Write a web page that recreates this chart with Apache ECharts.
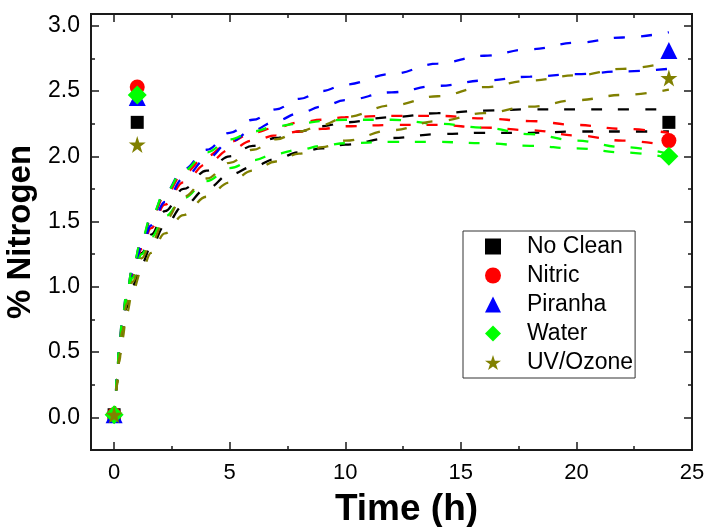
<!DOCTYPE html>
<html>
<head>
<meta charset="utf-8">
<title>% Nitrogen vs Time</title>
<script src="https://cdn.jsdelivr.net/npm/echarts@6/dist/echarts.min.js"></script>
<style>
  html, body { margin: 0; padding: 0; background: #fff; }
  #chart { width: 707px; height: 527px; }
</style>
</head>
<body>
<div id="chart"></div>
<script>
// Measured nitrogen content at each sampling time (h)
const sampleT = [0, 1, 24];
const noClean = [0.02, 2.26, 2.26];
const nitric  = [0.02, 2.53, 2.12];
const piranha = [0.02, 2.45, 2.81];
const water   = [0.02, 2.47, 2.00];
const uvOzone = [0.02, 2.09, 2.60];

// Upper / lower fitted curves for each treatment, sampled on fitT
const fitT = [0, 0.05, 0.12, 0.22, 0.35, 0.55, 0.8, 1.2, 1.6, 2.2, 3, 4, 5, 6, 7, 8, 9, 10, 12, 14, 16, 18, 20, 22, 24];
const noCleanHi = [0, 0.10, 0.28, 0.48, 0.69, 0.90, 1.08, 1.26, 1.40, 1.58, 1.75, 1.89, 2.00, 2.08, 2.14, 2.19, 2.23, 2.26, 2.30, 2.33, 2.35, 2.36, 2.36, 2.36, 2.36];
const noCleanLo = [0, 0.09, 0.26, 0.45, 0.64, 0.84, 1.01, 1.18, 1.31, 1.47, 1.62, 1.75, 1.86, 1.92, 1.98, 2.03, 2.06, 2.09, 2.14, 2.17, 2.18, 2.18, 2.19, 2.19, 2.19];
const nitricHi  = [0, 0.12, 0.30, 0.52, 0.74, 0.95, 1.14, 1.35, 1.52, 1.70, 1.87, 2.00, 2.11, 2.18, 2.22, 2.26, 2.28, 2.30, 2.31, 2.31, 2.29, 2.27, 2.24, 2.21, 2.18];
const nitricLo  = [0, 0.11, 0.29, 0.50, 0.71, 0.91, 1.09, 1.29, 1.45, 1.63, 1.80, 1.94, 2.05, 2.12, 2.16, 2.19, 2.21, 2.23, 2.24, 2.24, 2.22, 2.20, 2.16, 2.12, 2.08];
const piranhaHi = [0, 0.12, 0.31, 0.53, 0.75, 0.96, 1.15, 1.36, 1.53, 1.72, 1.90, 2.05, 2.18, 2.28, 2.36, 2.44, 2.50, 2.55, 2.63, 2.71, 2.77, 2.82, 2.87, 2.91, 2.95];
const piranhaLo = [0, 0.11, 0.30, 0.51, 0.72, 0.93, 1.11, 1.31, 1.47, 1.65, 1.83, 1.98, 2.11, 2.20, 2.27, 2.33, 2.38, 2.43, 2.49, 2.54, 2.58, 2.61, 2.63, 2.65, 2.67];
const waterHi   = [0, 0.12, 0.31, 0.53, 0.75, 0.96, 1.15, 1.37, 1.54, 1.72, 1.89, 2.03, 2.13, 2.19, 2.23, 2.25, 2.27, 2.28, 2.28, 2.25, 2.22, 2.17, 2.12, 2.07, 2.02];
const waterLo   = [0, 0.11, 0.29, 0.50, 0.70, 0.90, 1.07, 1.25, 1.38, 1.54, 1.68, 1.81, 1.91, 1.97, 2.02, 2.05, 2.08, 2.10, 2.11, 2.11, 2.10, 2.08, 2.06, 2.03, 1.99];
const uvOzoneHi = [0, 0.09, 0.26, 0.46, 0.66, 0.87, 1.04, 1.22, 1.34, 1.51, 1.69, 1.83, 1.95, 2.05, 2.13, 2.19, 2.24, 2.30, 2.39, 2.46, 2.53, 2.58, 2.62, 2.67, 2.72];
const uvOzoneLo = [0, 0.08, 0.24, 0.42, 0.60, 0.80, 0.97, 1.13, 1.26, 1.41, 1.55, 1.69, 1.80, 1.89, 1.96, 2.02, 2.07, 2.12, 2.20, 2.27, 2.33, 2.38, 2.43, 2.47, 2.51];

// Tick labels
const xTicks = [0, 5, 10, 15, 20, 25];
const xMinorTicks = [2.5, 7.5, 12.5, 17.5, 22.5];
const yTicks = [0, 0.5, 1.0, 1.5, 2.0, 2.5, 3.0];
const yMinorTicks = [0.25, 0.75, 1.25, 1.75, 2.25, 2.75];

const STAR = 'path://M50,0 L61.2,34.5 L97.6,34.5 L68.2,55.9 L79.4,90.5 L50,69.1 L20.6,90.5 L31.8,55.9 L2.4,34.5 L38.8,34.5 Z';

const groups = [
  { name: 'No Clean', color: '#000000', symbol: 'rect', size: 13, pts: noClean, hi: noCleanHi, lo: noCleanLo },
  { name: 'Nitric', color: '#ff0000', symbol: 'circle', size: 15, pts: nitric, hi: nitricHi, lo: nitricLo },
  { name: 'Piranha', color: '#0000ff', symbol: 'triangle', size: 17, pts: piranha, hi: piranhaHi, lo: piranhaLo },
  { name: 'Water', color: '#00ff00', symbol: 'diamond', size: 19, pts: water, hi: waterHi, lo: waterLo },
  { name: 'UV/Ozone', color: '#808000', symbol: STAR, size: 17, pts: uvOzone, hi: uvOzoneHi, lo: uvOzoneLo }
];

const FONT = 'Arial, "Liberation Sans", sans-serif';
const X_MIN = -1, X_MAX = 25, Y_MIN = -0.25, Y_MAX = 3.09;
const AXIS_COLOR = '#1a1a1a';

function pairs(xs, ys) { return xs.map((x, i) => [x, ys[i]]); }

const series = [];
groups.forEach(g => {
  [g.hi, g.lo].forEach((curve, k) => {
    series.push({
      name: g.name + (k === 0 ? ' upper' : ' lower'),
      type: 'line',
      data: pairs(fitT, curve),
      smooth: 0.4,
      smoothMonotone: 'x',
      showSymbol: false,
      silent: true,
      z: 2,
      lineStyle: { color: g.color, width: 2.3, type: [11, 16] }
    });
  });
});
groups.forEach(g => {
  series.push({
    name: g.name,
    type: 'scatter',
    data: pairs(sampleT, g.pts),
    symbol: g.symbol,
    symbolSize: g.size,
    z: 5,
    itemStyle: { color: g.color, opacity: 1 }
  });
});

function frameAxis(base, extra) { return Object.assign({}, base, extra); }

const xBase = {
  type: 'value', min: X_MIN, max: X_MAX, gridIndex: 0,
  splitLine: { show: false },
  axisLine: { show: true, onZero: false, lineStyle: { color: AXIS_COLOR, width: 2 } }
};
const yBase = {
  type: 'value', min: Y_MIN, max: Y_MAX, gridIndex: 0,
  splitLine: { show: false },
  axisLine: { show: true, onZero: false, lineStyle: { color: AXIS_COLOR, width: 2 } }
};

const option = {
  backgroundColor: '#ffffff',
  animation: false,
  grid: { left: 91, right: 15, top: 14, bottom: 77, containLabel: false, outerBoundsMode: 'none' },
  legend: {
    data: groups.map(g => ({ name: g.name, icon: g.symbol })),
    orient: 'vertical',
    left: 463,
    top: 231,
    itemWidth: 16,
    itemHeight: 16,
    itemGap: 6,
    padding: [4, 2, 4, 22],
    borderColor: '#333333',
    borderWidth: 1,
    backgroundColor: '#ffffff',
    selectedMode: false,
    textStyle: { fontFamily: FONT, fontSize: 23, color: '#000', lineHeight: 23, padding: [0, 0, 0, 21] }
  },
  xAxis: [
    frameAxis(xBase, {
      position: 'bottom',
      name: 'Time (h)',
      nameLocation: 'middle',
      nameGap: 41,
      nameTextStyle: { fontFamily: FONT, fontSize: 37, fontWeight: 'bold', color: '#000', padding: [0, 0, 0, 30] },
      axisTick: { show: true, inside: true, length: 8, customValues: xTicks, lineStyle: { color: AXIS_COLOR, width: 1.5 } },
      axisLabel: { show: true, customValues: xTicks, margin: 12, fontFamily: FONT, fontSize: 22, color: '#000' }
    }),
    frameAxis(xBase, {
      position: 'bottom',
      axisTick: { show: true, inside: true, length: 4, customValues: xMinorTicks, lineStyle: { color: AXIS_COLOR, width: 1.5 } },
      axisLabel: { show: false }
    }),
    frameAxis(xBase, {
      position: 'top',
      axisTick: { show: true, inside: true, length: 8, customValues: xTicks, lineStyle: { color: AXIS_COLOR, width: 1.5 } },
      axisLabel: { show: false }
    }),
    frameAxis(xBase, {
      position: 'top',
      axisTick: { show: true, inside: true, length: 4, customValues: xMinorTicks, lineStyle: { color: AXIS_COLOR, width: 1.5 } },
      axisLabel: { show: false }
    })
  ],
  yAxis: [
    frameAxis(yBase, {
      position: 'left',
      name: '% Nitrogen',
      nameLocation: 'middle',
      nameGap: 45,
      nameTextStyle: { fontFamily: FONT, fontSize: 33, fontWeight: 'bold', color: '#000' },
      axisTick: { show: true, inside: true, length: 8, customValues: yTicks, lineStyle: { color: AXIS_COLOR, width: 1.5 } },
      axisLabel: { show: true, customValues: yTicks, margin: 11, fontFamily: FONT, fontSize: 23, color: '#000',
                   formatter: v => Number(v).toFixed(1) }
    }),
    frameAxis(yBase, {
      position: 'left',
      axisTick: { show: true, inside: true, length: 4, customValues: yMinorTicks, lineStyle: { color: AXIS_COLOR, width: 1.5 } },
      axisLabel: { show: false }
    }),
    frameAxis(yBase, {
      position: 'right',
      axisTick: { show: true, inside: true, length: 8, customValues: yTicks, lineStyle: { color: AXIS_COLOR, width: 1.5 } },
      axisLabel: { show: false }
    }),
    frameAxis(yBase, {
      position: 'right',
      axisTick: { show: true, inside: true, length: 4, customValues: yMinorTicks, lineStyle: { color: AXIS_COLOR, width: 1.5 } },
      axisLabel: { show: false }
    })
  ],
  series: series
};

const chart = echarts.init(document.getElementById('chart'), null, { renderer: 'canvas' });
chart.setOption(option);
</script>
</body>
</html>
